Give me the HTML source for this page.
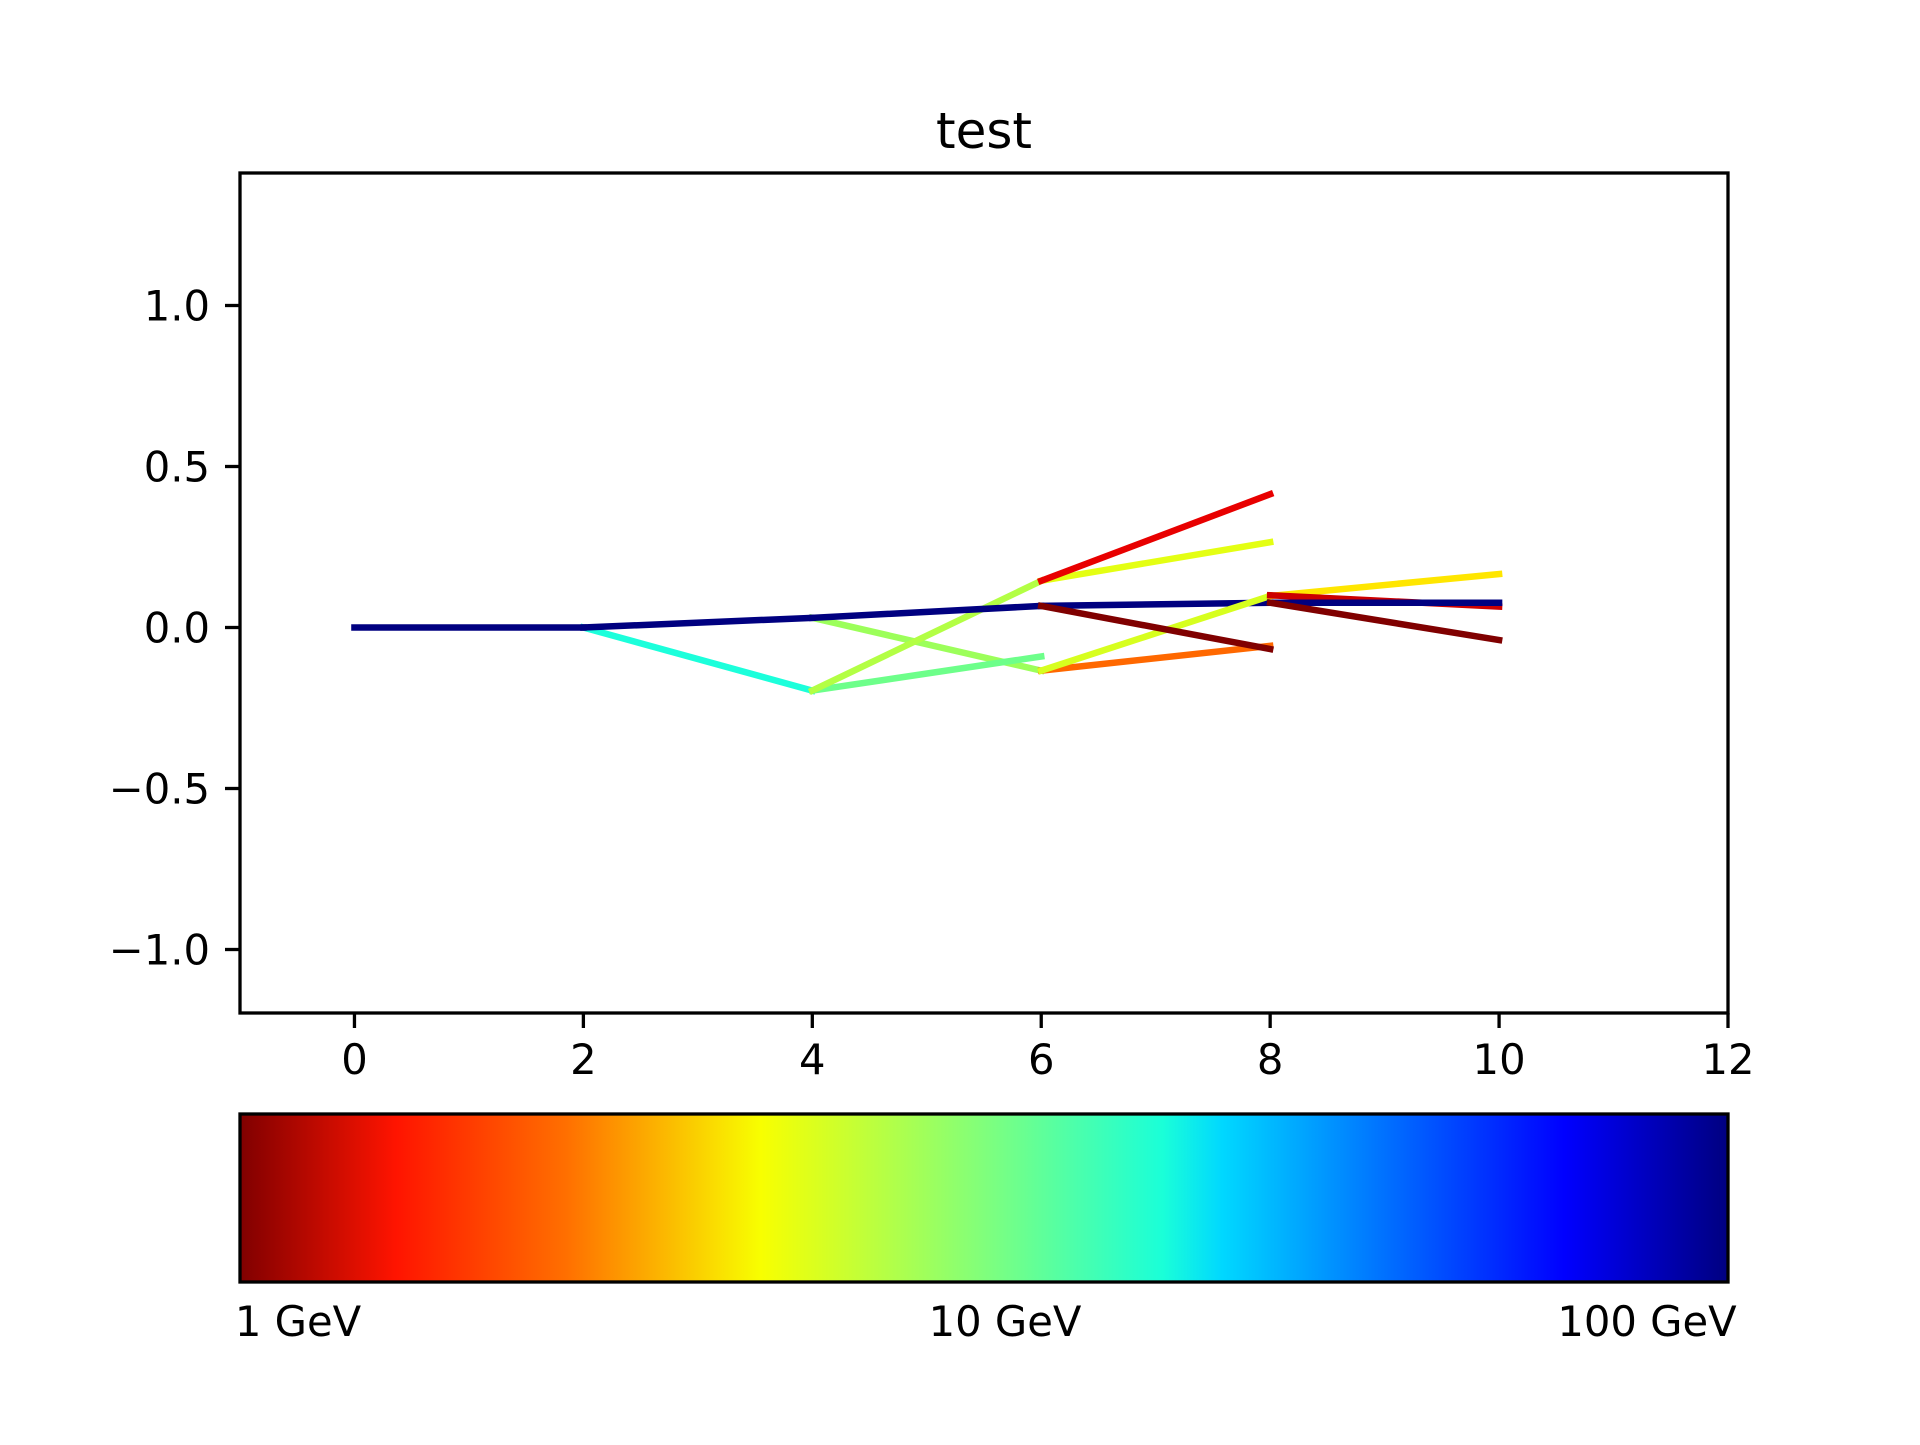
<!DOCTYPE html>
<html><head><meta charset="utf-8"><style>
html,body{margin:0;padding:0;background:#fff}
svg text{font-family:"DejaVu Sans","Liberation Sans",sans-serif;fill:#000}
</style></head><body>
<svg id="chart" width="1920" height="1440" xmlns="http://www.w3.org/2000/svg">
<defs>
<linearGradient id="jetr" x1="0" x2="1" y1="0" y2="0">
<stop offset="0" stop-color="#800000"/>
<stop offset="0.105" stop-color="#ff1400"/>
<stop offset="0.22" stop-color="#ff7000"/>
<stop offset="0.35" stop-color="#f8ff00"/>
<stop offset="0.5" stop-color="#80ff7c"/>
<stop offset="0.62" stop-color="#1affd8"/>
<stop offset="0.66" stop-color="#00d8ff"/>
<stop offset="0.77" stop-color="#0070ff"/>
<stop offset="0.89" stop-color="#0000ff"/>
<stop offset="1" stop-color="#000080"/>
</linearGradient>
</defs>
<text x="984" y="148" font-size="50" text-anchor="middle">test</text>
<g id="marks"></g>
<g id="axes"></g>
<rect x="240" y="1114" width="1488" height="168" fill="url(#jetr)" stroke="#000" stroke-width="3.3"/>
<text x="298" y="1336" font-size="41.7" text-anchor="middle">1 GeV</text>
<text x="1005" y="1336" font-size="41.7" text-anchor="middle">10 GeV</text>
<text x="1647" y="1336" font-size="41.7" text-anchor="middle">100 GeV</text>
</svg>
<script>
const xTicks = [0, 2, 4, 6, 8, 10, 12];
const yTicks = [-1.0, -0.5, 0.0, 0.5, 1.0];
const yTickLabels = ["\u22121.0", "\u22120.5", "0.0", "0.5", "1.0"];
const segX0 = [0, 2, 4, 6, 8, 2, 4, 4, 4, 6, 6, 6, 6, 6, 8, 8, 8];
const segY0 = [0, 0, 0.03, 0.067, 0.077, 0, -0.196, 0.03, -0.196, 0.145, 0.145, 0.067, -0.134, -0.134, 0.098, 0.1, 0.077];
const segX1 = [2, 4, 6, 8, 10, 4, 6, 6, 6, 8, 8, 8, 8, 8, 10, 10, 10];
const segY1 = [0, 0.03, 0.067, 0.077, 0.077, -0.196, 0.145, -0.134, -0.09, 0.414, 0.265, -0.067, -0.057, 0.098, 0.166, 0.065, -0.039];
const segColors = ["#000080","#000080","#000080","#000080","#000080","#1cffdb","#b3ff44","#9cff5a","#6dff8a","#e80000","#e4ff13","#800000","#ff6800","#d7ff1f","#ffe600","#cc0000","#800000"];
const segOrder = [5,7,8,6,0,1,2,3,12,13,11,10,9,14,15,4,16];
const X0 = 240, X1 = 1728, XMIN = -1, XMAX = 12;
const Y0 = 627.5, YU = 322;
function sx(v){ return X0 + (v - XMIN) / (XMAX - XMIN) * (X1 - X0); }
function sy(v){ return Y0 - v * YU; }
const NS = "http://www.w3.org/2000/svg";
const marks = document.getElementById('marks');
segOrder.forEach(function(i){
  const l = document.createElementNS(NS, 'line');
  l.setAttribute('x1', sx(segX0[i])); l.setAttribute('y1', sy(segY0[i]));
  l.setAttribute('x2', sx(segX1[i])); l.setAttribute('y2', sy(segY1[i]));
  l.setAttribute('stroke', segColors[i]); l.setAttribute('stroke-width', '6.5');
  l.setAttribute('stroke-linecap', 'square');
  
  
  marks.appendChild(l);
});
const axes = document.getElementById('axes');
const frame = document.createElementNS(NS, 'rect');
frame.setAttribute('x', X0); frame.setAttribute('y', 173);
frame.setAttribute('width', X1 - X0); frame.setAttribute('height', 1013 - 173);
frame.setAttribute('fill', 'none'); frame.setAttribute('stroke', '#000'); frame.setAttribute('stroke-width', '3.3');


axes.appendChild(frame);
xTicks.forEach(function(t){
  const x = sx(t);
  const tk = document.createElementNS(NS, 'line');
  tk.setAttribute('x1', x); tk.setAttribute('x2', x); tk.setAttribute('y1', 1013); tk.setAttribute('y2', 1028);
  tk.setAttribute('stroke', '#000'); tk.setAttribute('stroke-width', '3.3');
  
  
  axes.appendChild(tk);
  const tx = document.createElementNS(NS, 'text');
  tx.setAttribute('x', x); tx.setAttribute('y', 1074); tx.setAttribute('font-size', '41.7'); tx.setAttribute('text-anchor', 'middle');
  tx.textContent = String(t);
  
  
  axes.appendChild(tx);
});
yTicks.forEach(function(t, i){
  const y = sy(t);
  const tk = document.createElementNS(NS, 'line');
  tk.setAttribute('x1', 225); tk.setAttribute('x2', 240); tk.setAttribute('y1', y); tk.setAttribute('y2', y);
  tk.setAttribute('stroke', '#000'); tk.setAttribute('stroke-width', '3.3');
  
  
  axes.appendChild(tk);
  const tx = document.createElementNS(NS, 'text');
  tx.setAttribute('x', 210); tx.setAttribute('y', y + 15); tx.setAttribute('font-size', '41.7'); tx.setAttribute('text-anchor', 'end');
  tx.textContent = yTickLabels[i];
  
  
  axes.appendChild(tx);
});
</script>
</body></html>
